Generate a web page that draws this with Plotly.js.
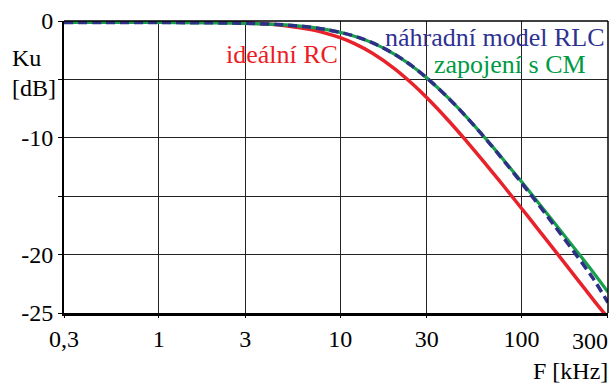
<!DOCTYPE html>
<html>
<head>
<meta charset="utf-8">
<script src="https://cdn.plot.ly/plotly-3.0.1.min.js"></script>
<style>
html,body{margin:0;padding:0;background:#fff;}
#chart{width:615px;height:385px;}
.modebar,.modebar-container{display:none !important;}
</style>
</head>
<body>
<div id="chart"></div>
<script>
// Frequencies in kHz
const freq = [0.3, 0.5, 1, 2, 3, 4, 5, 6, 7, 8, 10, 12, 15, 20, 25, 30, 40, 50, 60, 70, 80, 100, 120, 150, 200, 250, 300];
// ideální RC [dB]
const idealRC = [0.00, 0.00, -0.02, -0.07, -0.15, -0.26, -0.40, -0.57, -0.76, -0.97, -1.43, -1.94, -2.74, -4.09, -5.37, -6.55, -8.60, -10.32, -11.78, -13.04, -14.15, -16.03, -17.58, -19.49, -21.97, -23.89, -25.40];
// zapojení s CM [dB]
const zapojeniCM = [-0.12, -0.12, -0.13, -0.16, -0.20, -0.26, -0.34, -0.44, -0.55, -0.68, -0.97, -1.30, -1.85, -2.85, -3.87, -4.86, -6.67, -8.25, -9.63, -10.84, -11.92, -13.75, -15.28, -17.17, -19.62, -21.55, -23.20];
// náhradní model RLC [dB]
const modelRLC = [-0.12, -0.12, -0.13, -0.16, -0.20, -0.26, -0.34, -0.44, -0.55, -0.68, -0.97, -1.30, -1.85, -2.85, -3.87, -4.86, -6.67, -8.26, -9.65, -10.87, -11.97, -13.85, -15.42, -17.40, -20.00, -22.10, -24.10];

const xTickVals = [0.3, 1, 3, 10, 30, 100, 300];
const xTickText = ['0,3', '1', '3', '10', '30', '100', ''];
const lastXTick = '300';
const yTickVals = [0, -5, -10, -15, -20, -25];
const yTickText = ['0', '', '-10', '', '-20', '-25'];

const FONT = 'Liberation Serif';

const traces = [
  {x: freq, y: idealRC, mode: 'lines', name: 'ideální RC', line: {color: '#e8222a', width: 3.5, shape: 'spline'}},
  {x: freq, y: zapojeniCM, mode: 'lines', name: 'zapojení s CM', line: {color: '#17a04b', width: 3.2, shape: 'spline'}},
  {x: freq, y: modelRLC, mode: 'lines', name: 'náhradní model RLC', line: {color: '#2e2f86', width: 3.5, dash: '9px,5px', shape: 'spline'}}
];

const layout = {
  width: 615, height: 385,
  margin: {l: 64, r: 7, t: 21, b: 72},
  showlegend: false,
  xaxis: {
    type: 'log', range: [Math.log10(0.3) - 0.0005, Math.log10(300) + 0.0005],
    tickvals: xTickVals, ticktext: xTickText,
    showgrid: true, gridcolor: '#222', gridwidth: 1.2,
    showline: true, linecolor: '#000', linewidth: 2.5,
    ticks: 'outside', ticklen: 2, tickcolor: '#000', tickwidth: 1,
    zeroline: false, tickfont: {family: FONT, size: 24, color: '#000'}
  },
  yaxis: {
    range: [-25, 0],
    tickvals: yTickVals, ticktext: yTickText,
    showgrid: true, gridcolor: '#222', gridwidth: 1.2,
    showline: true, linecolor: '#000', linewidth: 2,
    ticks: 'outside', ticklen: 4, tickcolor: '#000', tickwidth: 1,
    zeroline: false, tickfont: {family: FONT, size: 24, color: '#000'}
  },
  shapes: [
    {type: 'line', xref: 'paper', yref: 'paper', x0: 0, x1: 1, y0: 1, y1: 1, line: {color: '#000', width: 1.5}},
    {type: 'line', xref: 'paper', yref: 'paper', x0: 1, x1: 1, y0: 0, y1: 1, line: {color: '#000', width: 1.5}}
  ],
  annotations: [
    {text: 'ideální RC', xref: 'paper', yref: 'paper', x: 0.401, y: 0.884, xanchor: 'center', yanchor: 'middle', showarrow: false, font: {family: FONT, size: 26, color: '#ed1c24'}},
    {text: 'náhradní model RLC', xref: 'paper', yref: 'paper', x: 0.998, y: 0.945, xanchor: 'right', yanchor: 'middle', showarrow: false, font: {family: FONT, size: 26, color: '#2e3192'}},
    {text: 'zapojení s CM', xref: 'paper', yref: 'paper', x: 0.820, y: 0.850, xanchor: 'center', yanchor: 'middle', showarrow: false, font: {family: FONT, size: 26, color: '#009a44'}},
    {text: 'Ku', xref: 'paper', yref: 'paper', x: -0.100, y: 0.873, xanchor: 'left', yanchor: 'middle', showarrow: false, font: {family: FONT, size: 24, color: '#000'}},
    {text: '[dB]', xref: 'paper', yref: 'paper', x: -0.100, y: 0.771, xanchor: 'left', yanchor: 'middle', showarrow: false, font: {family: FONT, size: 24, color: '#000'}},
    {text: lastXTick, xref: 'paper', yref: 'paper', x: 1.003, y: -0.045, xanchor: 'right', yanchor: 'top', showarrow: false, font: {family: FONT, size: 24, color: '#000'}},
    {text: 'F [kHz]', xref: 'paper', yref: 'paper', x: 1.003, y: -0.198, xanchor: 'right', yanchor: 'middle', showarrow: false, font: {family: FONT, size: 24, color: '#000'}}
  ]
};

Plotly.newPlot('chart', traces, layout);
</script>
</body>
</html>
